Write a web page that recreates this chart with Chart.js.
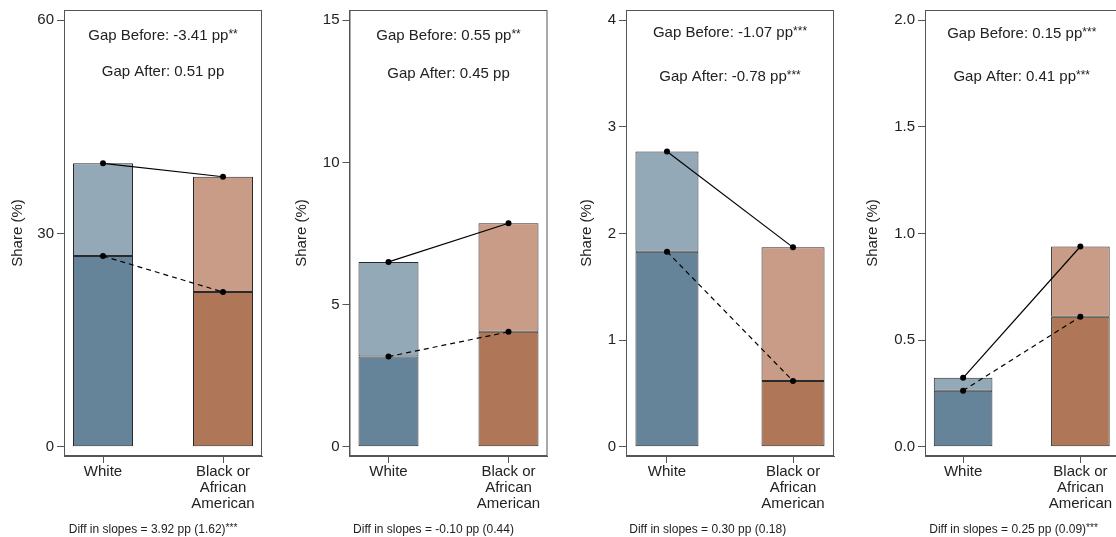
<!DOCTYPE html>
<html>
<head>
<meta charset="utf-8">
<script src="https://cdn.jsdelivr.net/npm/chart.js@4/dist/chart.umd.min.js"></script>
<style>
  html, body { margin: 0; padding: 0; background: #fff; overflow: hidden; width: 1116px; height: 537px; }
  canvas { position: absolute; left: 0; top: 0; }
</style>
</head>
<body>
<canvas id="p0" width="1140" height="537"></canvas>
<canvas id="p1" width="1140" height="537"></canvas>
<canvas id="p2" width="1140" height="537"></canvas>
<canvas id="p3" width="1140" height="537"></canvas>
<script>
// ---- data -------------------------------------------------------------
const categories = [['White'], ['Black or', 'African', 'American']];
const categoryX = [1, 2];

// share (%) per panel: lower (dark) segment and total height of each bar
const whiteLower = [26.83, 3.17, 1.83, 0.263];
const whiteTotal = [39.88, 6.50, 2.77, 0.323];
const blackLower = [21.77, 4.04, 0.616, 0.610];
const blackTotal = [37.99, 7.86, 1.87, 0.939];

// y axes
const yTickValues = [[0, 30, 60], [0, 5, 10, 15], [0, 1, 2, 3, 4], [0, 0.5, 1, 1.5, 2]];
const yTickLabels = [['0', '30', '60'], ['0', '5', '10', '15'], ['0', '1', '2', '3', '4'], ['0.0', '0.5', '1.0', '1.5', '2.0']];
const yTop = [60, 15, 4, 2];

// annotation texts
const gapBefore = ['-3.41', '0.55', '-1.07', '0.15'];
const gapBeforeStars = ['**', '**', '***', '***'];
const gapAfter = ['0.51', '0.45', '-0.78', '0.41'];
const gapAfterStars = ['', '', '***', '***'];
const slopeDiff = ['3.92', '-0.10', '0.30', '0.25'];
const slopeSE = ['1.62', '0.44', '0.18', '0.09'];
const slopeStars = ['***', '', '', '***'];

// ---- layout & style ---------------------------------------------------
const CANVAS_W = 1140;
const FONT = "'Liberation Sans', Arial, Helvetica, sans-serif";
const panels = [
  { titleX: 17.5, boxLeft: 64,    boxRight: 262,    noteX: 153,    gapY: [34.5, 70.7] },
  { titleX: 302,  boxLeft: 349.5, boxRight: 547.5,  noteX: 433.5,  gapY: [35, 72.5] },
  { titleX: 587,  boxLeft: 626,   boxRight: 834,    noteX: 707.7,  gapY: [32, 75.3] },
  { titleX: 872.7, boxLeft: 925,  boxRight: 1118.5, noteX: 1013.5, gapY: [32.5, 76] }
];
const BOX_TOP = 10, BOX_BOTTOM = 456, CANVAS_H = 537, X_AXIS_H = 60;
const TICK_LEN = 7;
const AXIS_COLOR = '#555';
const TEXT_COLOR = '#222';
const WHITE_DARK = '#658399', WHITE_LIGHT = '#94a9b8';
const BLACK_DARK = '#b07658', BLACK_LIGHT = '#c89c86';

Chart.defaults.font.family = FONT;
Chart.defaults.color = TEXT_COLOR;

// text centred on x, vertically centred on y, with raised significance stars
function drawRich(ctx, x, y, main, sup, size, supSize, rise) {
  ctx.font = size + 'px ' + FONT;
  const w1 = ctx.measureText(main).width;
  ctx.font = supSize + 'px ' + FONT;
  const w2 = sup ? ctx.measureText(sup).width : 0;
  const start = x - (w1 + w2) / 2;
  const base = y + size * 0.36;
  ctx.textAlign = 'left';
  ctx.textBaseline = 'alphabetic';
  ctx.fillStyle = TEXT_COLOR;
  ctx.font = size + 'px ' + FONT;
  ctx.fillText(main, start, base);
  if (sup) {
    ctx.font = supSize + 'px ' + FONT;
    ctx.fillText(sup, start + w1, base - rise);
  }
}

const panelDecor = {
  id: 'panelDecor',
  afterDatasetsDraw(chart, args, opts) {
    const { ctx, chartArea } = chart;
    const i = opts.index;
    const p = panels[i];
    ctx.save();
    // frame around the plot region
    ctx.strokeStyle = AXIS_COLOR;
    ctx.lineWidth = 1;
    ctx.strokeRect(chartArea.left + 0.5, chartArea.top + 0.5,
                   chartArea.right - chartArea.left - 1, chartArea.bottom - chartArea.top - 1);
    const cx = (chartArea.left + chartArea.right) / 2;
    drawRich(ctx, cx, p.gapY[0], 'Gap Before: ' + gapBefore[i] + ' pp', gapBeforeStars[i], 15, 12, 2);
    drawRich(ctx, cx, p.gapY[1], 'Gap After: ' + gapAfter[i] + ' pp', gapAfterStars[i], 15, 12, 2);
    drawRich(ctx, p.noteX, 528.3, 'Diff in slopes = ' + slopeDiff[i] + ' pp (' + slopeSE[i] + ')', slopeStars[i], 12, 10, 1.5);
    ctx.restore();
  }
};

function buildPanel(i) {
  const p = panels[i];
  const top = yTop[i];
  const yMin = -top * 0.0218;
  const yMax = top * 1.0242;
  const padLeft = p.titleX - 9;

  const data = {
    datasets: [
      {
        type: 'line', order: 0,
        data: [{ x: categoryX[0], y: whiteTotal[i] }, { x: categoryX[1], y: blackTotal[i] }],
        borderColor: '#000', borderWidth: 1.2,
        pointRadius: 3, pointBackgroundColor: '#000', pointBorderColor: '#000', pointBorderWidth: 0
      },
      {
        type: 'line', order: 0,
        data: [{ x: categoryX[0], y: whiteLower[i] }, { x: categoryX[1], y: blackLower[i] }],
        borderColor: '#000', borderWidth: 1.2, borderDash: [5, 4],
        pointRadius: 3, pointBackgroundColor: '#000', pointBorderColor: '#000', pointBorderWidth: 0
      },
      {
        type: 'bar', order: 2, grouped: false,
        data: [{ x: categoryX[0], y: [whiteLower[i], whiteTotal[i]] }, { x: categoryX[1], y: [blackLower[i], blackTotal[i]] }],
        backgroundColor: [WHITE_LIGHT, BLACK_LIGHT],
        borderColor: '#2a2a2a', borderWidth: 1, borderSkipped: false,
        categoryPercentage: 1, barPercentage: 0.5
      },
      {
        type: 'bar', order: 1, grouped: false,
        data: [{ x: categoryX[0], y: [0, whiteLower[i]] }, { x: categoryX[1], y: [0, blackLower[i]] }],
        backgroundColor: [WHITE_DARK, BLACK_DARK],
        borderColor: '#2a2a2a', borderWidth: 1, borderSkipped: false,
        categoryPercentage: 1, barPercentage: 0.5
      }
    ]
  };

  return new Chart(document.getElementById('p' + i), {
    data,
    plugins: [panelDecor],
    options: {
      responsive: false,
      animation: false,
      devicePixelRatio: 1,
      layout: {
        padding: {
          left: padLeft,
          right: CANVAS_W - p.boxRight,
          top: BOX_TOP,
          bottom: CANVAS_H - BOX_BOTTOM - X_AXIS_H
        }
      },
      plugins: {
        legend: { display: false },
        tooltip: { enabled: false },
        panelDecor: { index: i }
      },
      scales: {
        x: {
          type: 'linear',
          min: 0.675, max: 2.325,
          offset: false,
          afterBuildTicks(scale) { scale.ticks = categoryX.map(v => ({ value: v })); },
          afterFit(scale) {
            scale.height = X_AXIS_H;
            scale.paddingLeft = 0; scale.paddingRight = 0;
          },
          ticks: {
            autoSkip: false, maxRotation: 0, padding: 1,
            font: { size: 15, lineHeight: 1.05 },
            color: TEXT_COLOR,
            callback(v) { const k = categoryX.indexOf(v); return k >= 0 ? categories[k] : ''; }
          },
          grid: { offset: false, drawOnChartArea: false, drawTicks: true, tickLength: TICK_LEN, color: AXIS_COLOR, tickWidth: 1 },
          border: { display: true, color: AXIS_COLOR, width: 1 }
        },
        y: {
          type: 'linear',
          min: yMin, max: yMax,
          afterBuildTicks(scale) { scale.ticks = yTickValues[i].map(v => ({ value: v })); },
          afterFit(scale) {
            scale.width = p.boxLeft - padLeft;
            scale.paddingTop = 0; scale.paddingBottom = 0;
          },
          ticks: {
            autoSkip: false, padding: 3,
            font: { size: 15 },
            color: TEXT_COLOR,
            callback(v) { const k = yTickValues[i].indexOf(v); return k >= 0 ? yTickLabels[i][k] : ''; }
          },
          title: { display: true, text: 'Share (%)', font: { size: 15 }, padding: 0, color: TEXT_COLOR },
          grid: { offset: false, drawOnChartArea: false, drawTicks: true, tickLength: TICK_LEN, color: AXIS_COLOR, tickWidth: 1 },
          border: { display: true, color: AXIS_COLOR, width: 1 }
        }
      }
    }
  });
}

for (let i = 0; i < panels.length; i++) buildPanel(i);
</script>
</body>
</html>
